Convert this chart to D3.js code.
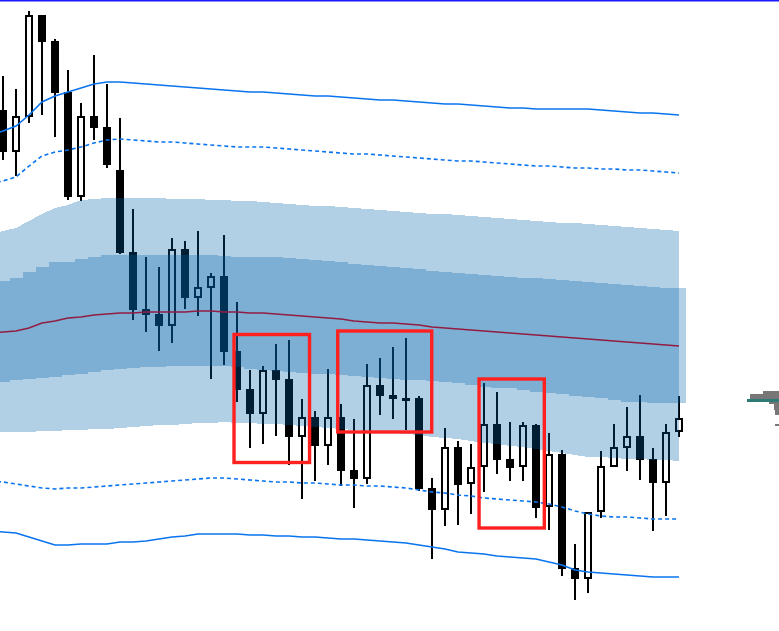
<!DOCTYPE html>
<html><head><meta charset="utf-8">
<script src="https://cdn.jsdelivr.net/npm/d3@7"></script>
<style>html,body{margin:0;padding:0;background:#fff;overflow:hidden;} svg{display:block;}</style>
</head><body>
<svg id="chart" width="779" height="631"></svg>
<script>
// ---- candles (53 bars) ----
const opens  = [1.1321,1.1279,1.1314,1.1416,1.1390,1.1339,1.1234,1.1315,1.1304,1.1261,1.1179,1.1122,1.1117,1.1105,1.1182,1.1133,1.1143,1.1155,1.1080,1.1042,1.1017,1.1061,1.1052,1.0994,1.1014,1.0985,1.1014,1.0961,1.0952,1.1046,1.1036,1.1031,1.1033,1.0943,1.0921,1.0984,1.0947,1.0964,1.1007,1.0972,1.0964,1.1006,1.0924,1.0977,1.0863,1.0852,1.0919,1.0964,1.0983,1.0995,1.0972,1.0948,1.0999];
const highs  = [1.1355,1.1342,1.1420,1.1416,1.1392,1.1361,1.1328,1.1376,1.1347,1.1313,1.1222,1.1174,1.1164,1.1193,1.1190,1.1200,1.1158,1.1196,1.1129,1.1061,1.1065,1.1087,1.1091,1.1032,1.1020,1.1062,1.1027,1.1012,1.1067,1.1073,1.1084,1.1093,1.1035,1.0953,1.1003,1.0990,1.0987,1.1048,1.1039,1.1009,1.1009,1.1007,1.0998,1.0981,1.0887,1.0919,1.0980,1.1007,1.1024,1.1036,1.0983,1.1007,1.1035];
const lows   = [1.1271,1.1255,1.1308,1.1316,1.1294,1.1231,1.1230,1.1291,1.1263,1.1177,1.1111,1.1099,1.1080,1.1088,1.1122,1.1115,1.1052,1.1066,1.1029,1.0983,1.0987,1.0995,1.0966,1.0932,1.0950,1.0966,1.0945,1.0923,1.0947,1.1016,1.1012,1.1001,1.0940,1.0872,1.0905,1.0906,1.0917,1.0939,1.0957,1.0950,1.0950,1.0913,1.0901,1.0855,1.0831,1.0838,1.0913,1.0964,1.0960,1.0951,1.0900,1.0915,1.0994];
const closes = [1.1279,1.1315,1.1416,1.1389,1.1338,1.1234,1.1315,1.1303,1.1266,1.1178,1.1121,1.1116,1.1105,1.1182,1.1133,1.1144,1.1155,1.1079,1.1041,1.1017,1.1061,1.1051,1.0994,1.1014,1.0985,1.1014,1.0960,1.0952,1.1046,1.1035,1.1032,1.1033,1.0942,1.0921,1.0984,1.0946,1.0964,1.1007,1.0971,1.0963,1.1006,1.0923,1.0977,1.0862,1.0852,1.0919,1.0965,1.0984,1.0995,1.0971,1.0948,1.0999,1.1013];

// ---- envelope lines (54 values: first one belongs to the bar before the first visible candle) ----
const upperOuter = [1.1296,1.1300,1.1305,1.1316,1.1329,1.1335,1.1339,1.1343,1.1347,1.1349,1.1349,1.1348,1.1347,1.1346,1.1345,1.1344,1.1343,1.1342,1.1341,1.1340,1.1339,1.1339,1.1338,1.1337,1.1336,1.1335,1.1335,1.1334,1.1333,1.1332,1.1331,1.1331,1.1330,1.1329,1.1328,1.1327,1.1327,1.1326,1.1325,1.1324,1.1323,1.1323,1.1322,1.1322,1.1322,1.1322,1.1322,1.1321,1.1320,1.1319,1.1318,1.1318,1.1317,1.1316];
const upperInner = [1.1247,1.1250,1.1254,1.1265,1.1275,1.1279,1.1281,1.1284,1.1288,1.1291,1.1292,1.1291,1.1290,1.1289,1.1289,1.1288,1.1287,1.1286,1.1285,1.1284,1.1284,1.1284,1.1283,1.1282,1.1281,1.1280,1.1279,1.1278,1.1277,1.1277,1.1276,1.1275,1.1274,1.1273,1.1272,1.1271,1.1270,1.1270,1.1269,1.1268,1.1267,1.1266,1.1265,1.1265,1.1264,1.1263,1.1263,1.1262,1.1262,1.1261,1.1261,1.1260,1.1259,1.1258];
const midLine    = [1.1098,1.1099,1.1100,1.1103,1.1108,1.1110,1.1113,1.1114,1.1116,1.1117,1.1118,1.1118,1.1119,1.1119,1.1119,1.1119,1.1120,1.1120,1.1119,1.1119,1.1118,1.1118,1.1117,1.1116,1.1115,1.1114,1.1113,1.1112,1.1110,1.1109,1.1108,1.1108,1.1107,1.1106,1.1104,1.1103,1.1102,1.1101,1.1100,1.1099,1.1098,1.1097,1.1096,1.1095,1.1094,1.1093,1.1092,1.1091,1.1090,1.1089,1.1088,1.1087,1.1086,1.1085];
const lowerInner = [1.0950,1.0949,1.0947,1.0945,1.0943,1.0942,1.0943,1.0943,1.0944,1.0945,1.0946,1.0947,1.0948,1.0949,1.0950,1.0951,1.0952,1.0953,1.0953,1.0952,1.0951,1.0950,1.0949,1.0949,1.0948,1.0948,1.0947,1.0946,1.0946,1.0945,1.0945,1.0944,1.0943,1.0941,1.0939,1.0938,1.0936,1.0935,1.0933,1.0932,1.0931,1.0930,1.0929,1.0927,1.0924,1.0920,1.0917,1.0915,1.0914,1.0914,1.0913,1.0912,1.0912,1.0912];
const lowerOuter = [1.0900,1.0899,1.0898,1.0894,1.0890,1.0886,1.0886,1.0887,1.0887,1.0887,1.0889,1.0889,1.0890,1.0892,1.0894,1.0895,1.0897,1.0897,1.0897,1.0897,1.0896,1.0896,1.0895,1.0895,1.0894,1.0894,1.0893,1.0892,1.0892,1.0891,1.0890,1.0889,1.0888,1.0886,1.0884,1.0882,1.0879,1.0878,1.0877,1.0875,1.0874,1.0873,1.0872,1.0869,1.0866,1.0861,1.0859,1.0858,1.0857,1.0856,1.0855,1.0854,1.0854,1.0854];

// ---- shaded zones ----
const zoneOuterTop    = [1.1197,1.1200,1.1203,1.1210,1.1217,1.1223,1.1226,1.1231,1.1232,1.1233,1.1233,1.1233,1.1233,1.1233,1.1232,1.1232,1.1232,1.1231,1.1231,1.1230,1.1230,1.1229,1.1228,1.1227,1.1226,1.1225,1.1225,1.1224,1.1223,1.1222,1.1221,1.1220,1.1219,1.1218,1.1217,1.1217,1.1216,1.1215,1.1214,1.1213,1.1212,1.1211,1.1210,1.1209,1.1208,1.1208,1.1207,1.1206,1.1205,1.1204,1.1203,1.1202,1.1201,1.1200];
const zoneOuterBottom = [1.0998,1.0999,1.0999,1.0999,1.1000,1.1000,1.1001,1.1001,1.1002,1.1002,1.1003,1.1004,1.1005,1.1006,1.1006,1.1007,1.1008,1.1008,1.1009,1.1008,1.1008,1.1007,1.1007,1.1006,1.1005,1.1004,1.1003,1.1002,1.1001,1.1000,1.0999,1.0998,1.0997,1.0996,1.0994,1.0993,1.0992,1.0990,1.0988,1.0987,1.0985,1.0984,1.0982,1.0980,1.0978,1.0976,1.0974,1.0974,1.0973,1.0972,1.0972,1.0971,1.0971,1.0970];
// inner zone: one value per candle (53)
const zoneInnerTop    = [1.1150,1.1153,1.1159,1.1164,1.1169,1.1169,1.1172,1.1174,1.1176,1.1176,1.1176,1.1176,1.1176,1.1176,1.1176,1.1176,1.1176,1.1175,1.1174,1.1174,1.1174,1.1174,1.1173,1.1172,1.1171,1.1170,1.1169,1.1167,1.1166,1.1165,1.1164,1.1163,1.1162,1.1160,1.1159,1.1158,1.1157,1.1156,1.1155,1.1154,1.1153,1.1153,1.1152,1.1151,1.1150,1.1149,1.1148,1.1147,1.1146,1.1145,1.1144,1.1143,1.1143];
const zoneInnerBottom = [1.1049,1.1051,1.1052,1.1053,1.1054,1.1056,1.1057,1.1059,1.1061,1.1062,1.1063,1.1064,1.1064,1.1065,1.1065,1.1065,1.1065,1.1065,1.1064,1.1062,1.1061,1.1060,1.1059,1.1058,1.1057,1.1057,1.1056,1.1055,1.1054,1.1053,1.1052,1.1051,1.1051,1.1050,1.1049,1.1048,1.1046,1.1044,1.1043,1.1043,1.1041,1.1039,1.1038,1.1037,1.1035,1.1034,1.1033,1.1031,1.1029,1.1029,1.1028,1.1028,1.1028];

// ---- highlighted boxes (bar index range, price range) ----
const boxFrom = [17.77, 25.75, 36.62];
const boxTo   = [23.58, 32.98, 41.64];
const boxHigh = [1.10965, 1.1100, 1.1052];
const boxLow  = [1.09685, 1.0999, 1.0903];

const W = 779, H = 631;
const svg = d3.select("#chart");
const x = d3.scaleLinear().domain([0, 52]).range([3, 679]);
const y = d3.scaleLinear().domain([1.0800, 1.1431]).range([H, 0]);
const step = x(1) - x(0);

svg.append("rect").attr("width", W).attr("height", H).attr("fill", "#fff");

const bars = d3.range(opens.length).map(i => ({i, o: opens[i], h: highs[i], l: lows[i], c: closes[i]}));

// candles
const cg = svg.append("g");
cg.selectAll("line.wick").data(bars).join("line")
  .attr("x1", d => x(d.i)).attr("x2", d => x(d.i))
  .attr("y1", d => y(d.h)).attr("y2", d => y(d.l))
  .attr("stroke", "#000").attr("stroke-width", 2).attr("shape-rendering", "crispEdges");
cg.selectAll("rect.body").data(bars).join("rect")
  .attr("x", d => x(d.i) - 3).attr("width", 6)
  .attr("y", d => y(Math.max(d.o, d.c)) + 1)
  .attr("height", d => Math.max(Math.abs(y(d.o) - y(d.c)) - 2, 0.5))
  .attr("fill", d => d.c >= d.o ? "#fff" : "#000")
  .attr("stroke", "#000").attr("stroke-width", 2).attr("shape-rendering", "crispEdges");

// shaded zones (semi-transparent, drawn over the candles)
const zoneFill = "rgba(0,98,168,0.3)";
const lineIdx = d3.range(-1, 53);
const outerArea = d3.area()
  .x((d, k) => x(lineIdx[k]))
  .y0((d, k) => y(zoneOuterBottom[k]))
  .y1((d, k) => y(zoneOuterTop[k]));
svg.append("path").attr("d", outerArea(lineIdx)).attr("fill", zoneFill).attr("shape-rendering", "crispEdges");

const innerPts = bars.map(d => d.i);
innerPts.push(52.0001);
const innerArea = d3.area().curve(d3.curveStepAfter)
  .x((d, k) => k < bars.length ? x(d) - step / 2 : x(52) + step / 2)
  .y0((d, k) => y(zoneInnerBottom[Math.min(k, bars.length - 1)]))
  .y1((d, k) => y(zoneInnerTop[Math.min(k, bars.length - 1)]));
svg.append("path").attr("d", innerArea(innerPts)).attr("fill", zoneFill).attr("shape-rendering", "crispEdges");

// envelope lines
const mk = arr => d3.line().x((d, k) => x(lineIdx[k])).y((d, k) => y(arr[k]))(lineIdx);
const blue = "#0a74ef";
svg.append("path").attr("d", mk(upperOuter)).attr("fill", "none").attr("stroke", blue).attr("stroke-width", 1.6);
svg.append("path").attr("d", mk(upperInner)).attr("fill", "none").attr("stroke", blue).attr("stroke-width", 1.6).attr("stroke-dasharray", "4,3");
svg.append("path").attr("d", mk(lowerInner)).attr("fill", "none").attr("stroke", blue).attr("stroke-width", 1.6).attr("stroke-dasharray", "4,3");
svg.append("path").attr("d", mk(lowerOuter)).attr("fill", "none").attr("stroke", blue).attr("stroke-width", 1.6);
svg.append("path").attr("d", mk(midLine)).attr("fill", "none").attr("stroke", "#921c42").attr("stroke-width", 1.4);

// highlight boxes
svg.selectAll("rect.box").data(boxFrom.map((f, k) => ({f, t: boxTo[k], hi: boxHigh[k], lo: boxLow[k]}))).join("rect")
  .attr("x", d => x(d.f)).attr("width", d => x(d.t) - x(d.f))
  .attr("y", d => y(d.hi)).attr("height", d => y(d.lo) - y(d.hi))
  .attr("fill", "none").attr("stroke", "#ff2020").attr("stroke-width", 3.4);

// small widget fragment at the right edge
const wg = svg.append("g").attr("shape-rendering", "crispEdges");
wg.append("path").attr("d", "M750,399V394H763V391H779V399Z").attr("fill", "#777");
wg.append("path").attr("d", "M769,402H779V415H775V410H774V404H769Z").attr("fill", "#777");
wg.append("rect").attr("x", 775).attr("y", 424).attr("width", 4).attr("height", 2).attr("fill", "#777");
wg.append("rect").attr("x", 747).attr("y", 399).attr("width", 32).attr("height", 3).attr("fill", "#2e7a74");

// top border
svg.append("rect").attr("x", 0).attr("y", 0).attr("width", W).attr("height", 1.5).attr("fill", "#1a1aff");
</script>
</body></html>
